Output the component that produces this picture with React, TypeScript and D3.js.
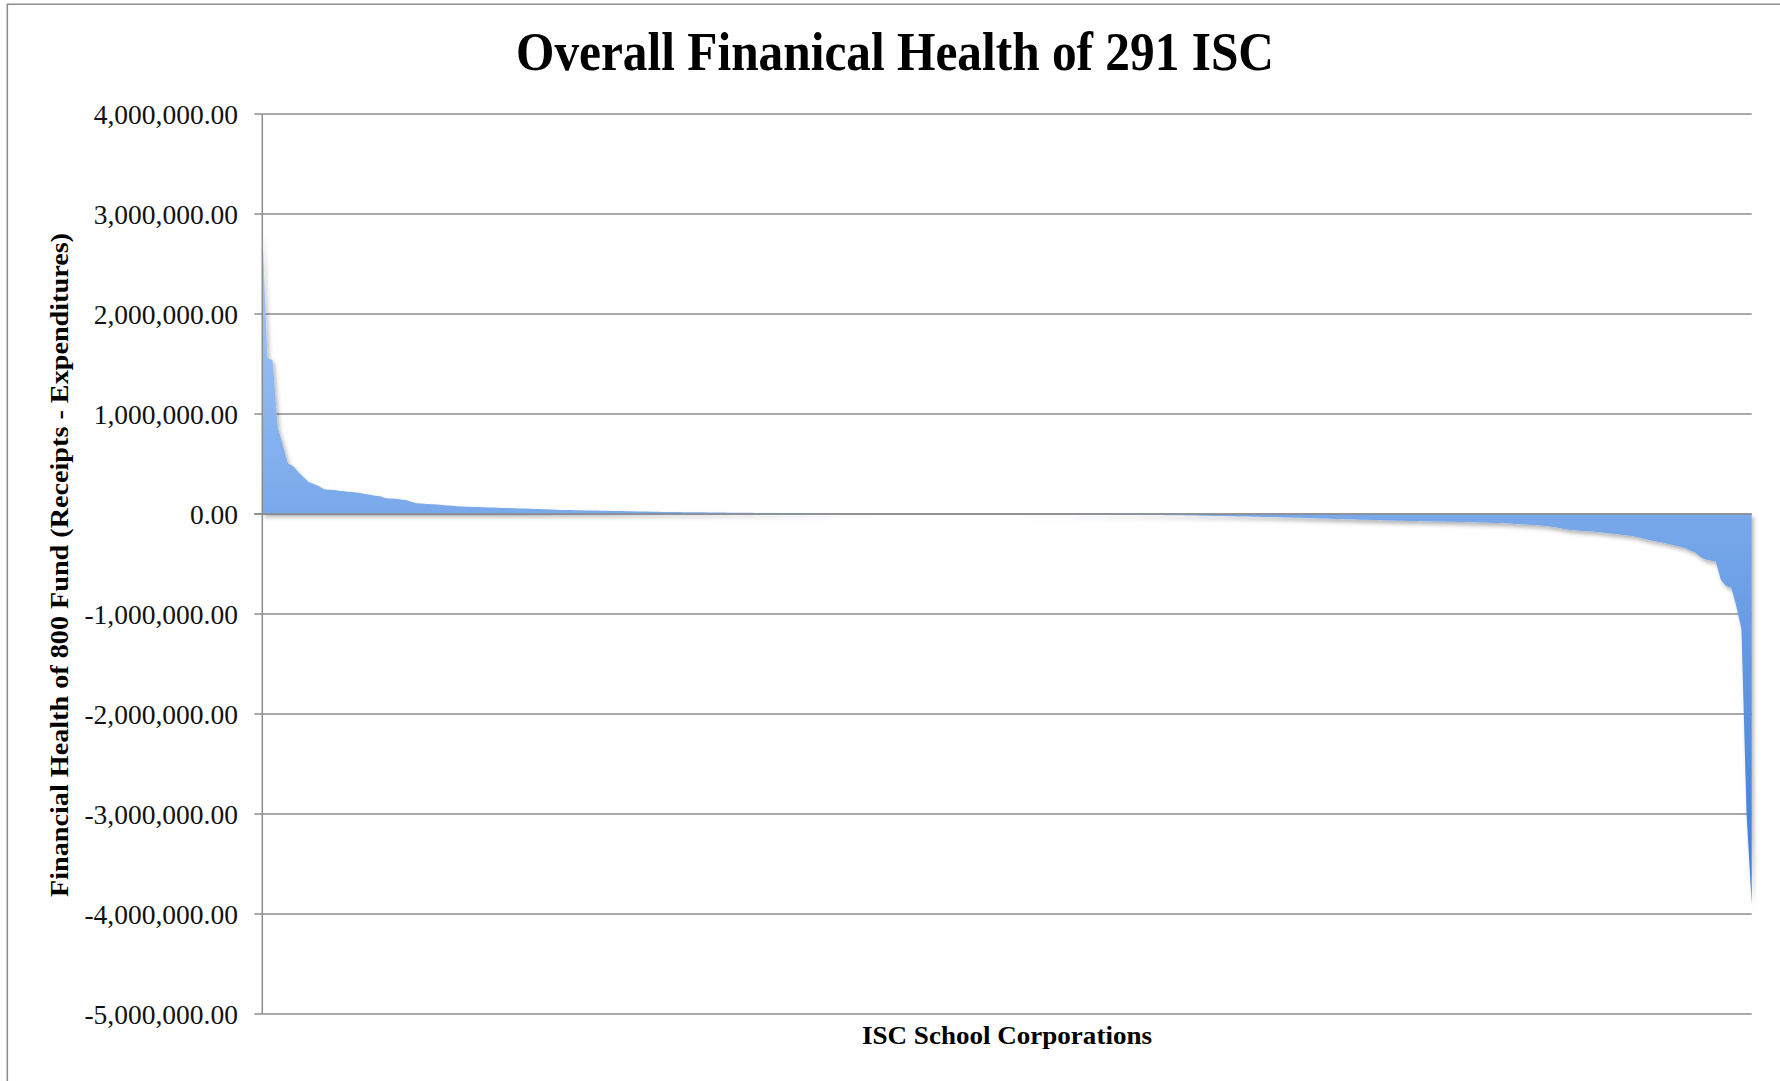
import React from "react";
import * as d3 from "d3";

// Fund balance (receipts - expenditures) per school corporation, sorted high to low.
const topSurplus = [
  2850000, 1560000, 1540000, 870000, 690000, 505000, 480000, 420000, 370000, 320000,
  300000, 280000, 247000, 243000, 240000, 233000, 227000, 220000, 218000, 210000,
  200000, 193000, 183000, 178000, 158000, 154000, 152000, 146000, 140000,
];

const smallSurplus = [
  123000, 108000, 104000, 100000, 97000, 94000, 90000, 86000, 82000, 78000, 74000, 72000,
  70000, 69000, 67000, 66000, 64000, 63000, 61000, 59000, 58000, 56000,
  55000, 53000, 51000, 49000, 47000, 45000, 43000, 41000, 40000, 39000,
  38000, 37000, 36000, 35000, 34000, 33000, 32000, 31000, 30000, 29000,
  28000, 27000, 26000, 25000, 24000, 23000, 22000, 21000, 20000, 19500,
  19000, 18500, 18000, 17500, 17000, 16500, 16000, 15500, 15000, 14000,
  13500, 13000, 12500, 12000, 11500, 11000, 10500, 10000, 9500, 9000,
  8500, 8000, 7500, 7000, 6500, 6000, 5500, 5000, 4500, 4000,
  3500, 3200, 3000, 2700, 2400, 2100, 1800, 1500, 1200, 1000,
  800, 600, 500, 400, 300, 200, 150, 100, 50, 20, 10,
];

const smallDeficit = [
  0, -20, -50, -100, -150, -200, -300, -400, -500,
  -600, -700, -800, -900, -1000, -1100, -1200, -1300, -1500, -1700,
  -1900, -2100, -2300, -2500, -2800, -3100, -3400, -3700, -4000, -4300,
  -4700, -5100, -5500, -5900, -6300, -6700, -7100, -7500, -8000, -8500,
  -9000, -9500, -10000, -10500, -11000, -11500, -12000, -12800, -13600, -14400,
  -15200, -16000, -17000, -18000, -19000, -20000, -21000, -22000, -23000, -24000,
  -25000, -26000, -27000, -28000, -29000, -30000, -31000, -32500, -34000, -35500,
  -37000, -38500, -40000, -41500, -43000, -44500, -46000, -47500, -49000, -50500,
  -52000, -53500, -55000, -56500, -58000, -59500, -61000, -62500, -64000, -65500,
  -67000,
];

const largeDeficit = [
  -68000, -69000, -70000, -71000, -72000, -73000, -74000, -75000, -76000, -77000,
  -78000, -79000, -80000, -81500, -83000, -84500, -86000, -87500, -89000,
  -90000, -93000, -96000, -99000, -102000, -105000, -108000, -110000, -115000, -120000,
  -128000, -135000, -145000, -155000, -160000, -165000, -170000, -173000, -176000, -180000,
  -186000, -193000, -198000, -203000, -210000, -216000, -223000, -235000, -248000, -260000,
  -270000, -280000, -290000, -302000, -315000, -328000, -340000, -365000, -385000, -430000,
  -455000, -465000, -475000, -660000, -720000, -735000, -920000, -1150000, -3000000, -3900000,
];

const yTickValues = [
  4000000, 3000000, 2000000, 1000000, 0, -1000000, -2000000, -3000000, -4000000, -5000000,
];

const chartTitle = "Overall Finanical Health of 291 ISC";
const xAxisTitle = "ISC School Corporations";
const yAxisTitle = "Financial Health of 800 Fund (Receipts - Expenditures)";

const balances = [...topSurplus, ...smallSurplus, ...smallDeficit, ...largeDeficit];

const W = 1780;
const H = 1081;
const plotLeft = 262.3;
const plotRight = 1751.7;
const plotTop = 114;
const plotBottom = 1014;

// plain hyphen for negatives, two decimals with thousands separators
const locale = d3.formatLocale({
  decimal: ".",
  thousands: ",",
  grouping: [3],
  currency: ["$", ""],
  minus: "-",
});
const fmt = locale.format(",.2f");
const gridColor = "#8d8d8d";
const serif = "'Liberation Serif', 'DejaVu Serif', serif";

export default function App() {
  const x = d3.scaleLinear().domain([0, balances.length - 1]).range([plotLeft, plotRight]);
  const y = d3.scaleLinear().domain([-5000000, 4000000]).range([plotBottom, plotTop]);

  const area = d3
    .area<number>()
    .x((_, i) => x(i))
    .y0(y(0))
    .y1((d) => y(d))
    .curve(d3.curveLinear);

  return (
    <svg
      width={W}
      height={H}
      style={{ position: "absolute", left: 0, top: 0, background: "#fff" }}
    >
      <defs>
        <linearGradient
          id="fundFill"
          gradientUnits="userSpaceOnUse"
          x1={0}
          x2={0}
          y1={y(3000000)}
          y2={y(-4000000)}
        >
          <stop offset="0%" stopColor="#a8cbfb" />
          <stop offset="100%" stopColor="#3a7bd4" />
        </linearGradient>
        <filter id="areaShadow" x="-5%" y="-5%" width="110%" height="115%">
          <feDropShadow dx={2} dy={3} stdDeviation={2} floodColor="#000" floodOpacity={0.3} />
        </filter>
      </defs>

      <rect x={0} y={0} width={W} height={H} fill="#fff" />

      {/* outer frame */}
      <line x1={7.3} x2={7.3} y1={4} y2={H} stroke={gridColor} strokeWidth={1.6} />
      <line x1={7} x2={W} y1={4.3} y2={4.3} stroke={gridColor} strokeWidth={1.6} />

      {/* horizontal gridlines and tick marks */}
      {yTickValues.map((v) => (
        <g key={v}>
          <line
            x1={plotLeft - 8}
            x2={plotRight}
            y1={y(v)}
            y2={y(v)}
            stroke={gridColor}
            strokeWidth={1.5}
          />
          <text
            x={238}
            y={y(v)}
            textAnchor="end"
            dominantBaseline="central"
            fontFamily={serif}
            fontSize={27.5}
            fill="#111"
          >
            {fmt(v)}
          </text>
        </g>
      ))}

      {/* area */}
      <path d={area(balances) ?? ""} fill="url(#fundFill)" filter="url(#areaShadow)" />

      {/* zero line and vertical axis over the area */}
      <line
        x1={plotLeft - 8}
        x2={plotRight}
        y1={y(0)}
        y2={y(0)}
        stroke={gridColor}
        strokeWidth={1.5}
      />
      <line
        x1={plotLeft}
        x2={plotLeft}
        y1={plotTop}
        y2={plotBottom}
        stroke={gridColor}
        strokeWidth={1.5}
      />

      {/* titles */}
      <text
        x={895}
        y={70}
        textAnchor="middle"
        fontFamily={serif}
        fontWeight="bold"
        fontSize={54}
        textLength={758}
        lengthAdjust="spacingAndGlyphs"
        fill="#000"
      >
        {chartTitle}
      </text>
      <text
        x={1007}
        y={1044}
        textAnchor="middle"
        fontFamily={serif}
        fontWeight="bold"
        fontSize={26}
        textLength={290}
        lengthAdjust="spacingAndGlyphs"
        fill="#000"
      >
        {xAxisTitle}
      </text>
      <text
        transform={`translate(59, 565) rotate(-90)`}
        textAnchor="middle"
        dominantBaseline="central"
        fontFamily={serif}
        fontWeight="bold"
        fontSize={25}
        textLength={664}
        lengthAdjust="spacingAndGlyphs"
        fill="#000"
      >
        {yAxisTitle}
      </text>
    </svg>
  );
}
